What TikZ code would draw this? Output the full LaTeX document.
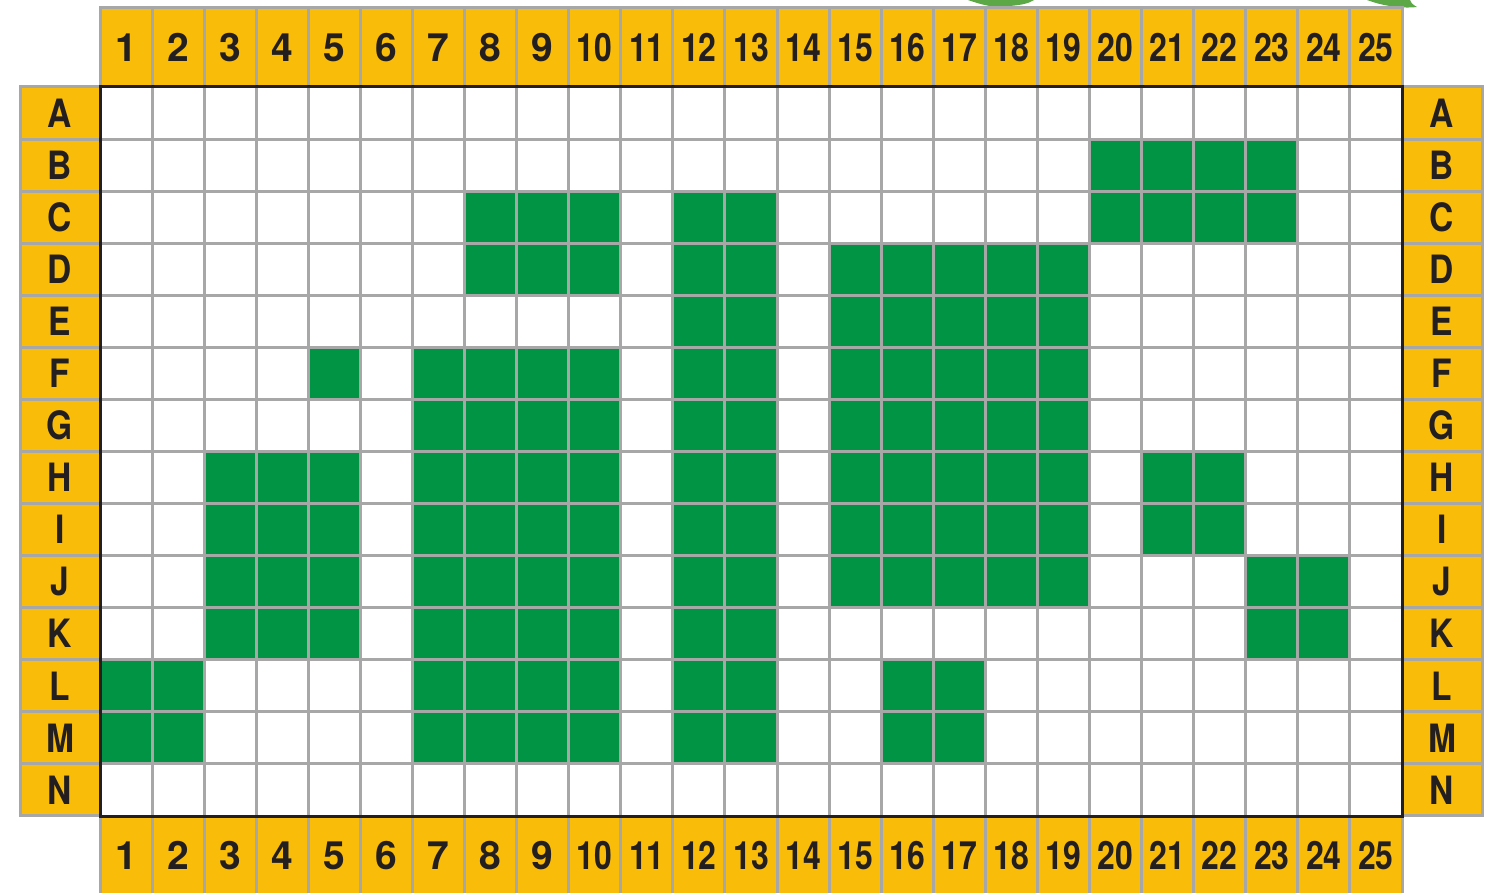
\documentclass[tikz,border=0pt]{standalone}
\usepackage{fontspec}
\setmainfont{TeX Gyre Heros}
\definecolor{hdr}{RGB}{249,188,9}
\definecolor{grn}{RGB}{0,148,68}
\definecolor{gline}{RGB}{167,167,167}
\definecolor{txt}{RGB}{35,31,32}
\definecolor{leaf}{RGB}{92,168,70}
\newcommand\numlbl[1]{\ifnum#1>9 \scalebox{0.82}[1]{#1}\else #1\fi}
\begin{document}
\begin{tikzpicture}[x=1pt,y=-1pt,
  hcell/.style={fill=hdr,draw=gline,line width=3pt},
  lab/.style={font=\fontsize{39}{39}\selectfont\bfseries,text=txt,inner sep=0pt,anchor=center},
  gcell/.style={fill=grn},
  gridline/.style={draw=gline,line width=3pt},
  frame/.style={draw=txt,line width=3pt}]
\useasboundingbox (0,0) rectangle (1492,893);
% leaves peeking at top
\fill[leaf] (968,0) .. controls (985,6) and (1000,9) .. (1010,6) .. controls (1020,5) and (1028,4) .. (1034,0) -- cycle;
\fill[leaf] (1367,0) .. controls (1380,5) and (1400,9) .. (1417,7) .. controls (1412,4) .. (1410,0) -- cycle;
% column headers
\foreach \i in {1,...,25} {
  \path[hcell] ({100+(\i-1)*52.08},8) rectangle ({100+\i*52.08},87);
  \path[hcell] ({100+(\i-1)*52.08},816) rectangle ({100+\i*52.08},896);
  \node[lab] (top\i) at ({100+(\i-0.5)*52.08},47.5) {\numlbl{\i}};
  \node[lab] (bot\i) at ({100+(\i-0.5)*52.08},855.5) {\numlbl{\i}};
}
% row headers
\foreach \r [count=\j] in {A,B,C,D,E,F,G,H,I,J,K,L,M,N} {
  \path[hcell] (20,{87+(\j-1)*52.07}) rectangle (100,{87+\j*52.07});
  \path[hcell] (1402,{87+(\j-1)*52.07}) rectangle (1482,{87+\j*52.07});
  \node[lab] (left\r) at (60,{87+(\j-0.5)*52.07}) {\scalebox{0.86}[1]{\r}};
  \node[lab] (right\r) at (1442,{87+(\j-0.5)*52.07}) {\scalebox{0.86}[1]{\r}};
}
% board
\fill[white] (100,87) rectangle (1402,816);
\foreach \rr/\cols in {
  2/{20,21,22,23},
  3/{8,9,10,12,13,20,21,22,23},
  4/{8,9,10,12,13,15,16,17,18,19},
  5/{12,13,15,16,17,18,19},
  6/{5,7,8,9,10,12,13,15,16,17,18,19},
  7/{7,8,9,10,12,13,15,16,17,18,19},
  8/{3,4,5,7,8,9,10,12,13,15,16,17,18,19,21,22},
  9/{3,4,5,7,8,9,10,12,13,15,16,17,18,19,21,22},
  10/{3,4,5,7,8,9,10,12,13,15,16,17,18,19,23,24},
  11/{3,4,5,7,8,9,10,12,13,23,24},
  12/{1,2,7,8,9,10,12,13,16,17},
  13/{1,2,7,8,9,10,12,13,16,17}} {
  \foreach \c in \cols {
    \fill[gcell] ({100+(\c-1)*52.08},{87+(\rr-1)*52.07}) rectangle ({100+\c*52.08},{87+\rr*52.07});
  }
}
\foreach \i in {1,...,24} \draw[gridline] ({100+\i*52.08},87) -- ({100+\i*52.08},816);
\foreach \j in {1,...,13} \draw[gridline] (100,{87+\j*52.07}) -- (1402,{87+\j*52.07});
\draw[frame] (100,87) rectangle (1402,816);
\end{tikzpicture}
\end{document}
